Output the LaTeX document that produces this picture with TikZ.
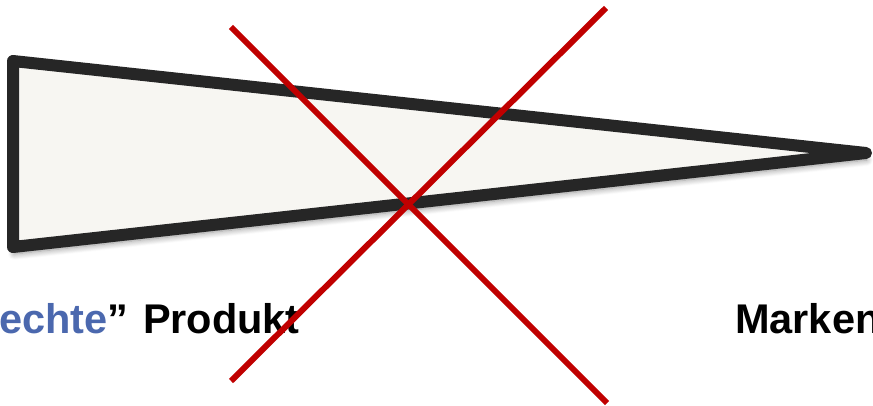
\documentclass[tikz,border=0pt]{standalone}
\usepackage{fontspec}
\setmainfont{Liberation Sans}
\usetikzlibrary{shadows.blur}
\definecolor{wedgefill}{HTML}{F7F6F2}
\definecolor{wedgeline}{HTML}{262626}
\definecolor{crossred}{HTML}{C00000}
\definecolor{textblue}{HTML}{4B68AE}
\begin{document}
\begin{tikzpicture}[x=1pt,y=-1pt,
  wedge/.style={draw=wedgeline,fill=wedgefill,line width=12pt,line join=round,
    blur shadow={shadow xshift=1pt,shadow yshift=-7pt,shadow blur radius=6pt,shadow blur steps=8,shadow opacity=45}},
  crossline/.style={draw=crossred,line width=6pt},
  label/.style={font=\fontsize{41.5}{41.5}\selectfont\bfseries,inner sep=0pt}]
\useasboundingbox (0,0) rectangle (873,406);
\clip (0,0) rectangle (873,406);
\coordinate (tl) at (13,61);
\coordinate (bl) at (13,247);
\coordinate (tip) at (866,153);
\path[wedge] (tl) -- (tip) -- (bl) -- cycle;
\coordinate (a1) at (231,27);
\coordinate (a2) at (607,403);
\coordinate (b1) at (606,8);
\coordinate (b2) at (231,381);
\node[label,anchor=base east] (prod) at (300,333) {\textcolor{textblue}{echte}”\hspace{3pt} Produkt};
\node[label,anchor=base west] (mark) at (735,333) {Marken};
\draw[crossline] (a1) -- (a2);
\draw[crossline] (b1) -- (b2);
\end{tikzpicture}
\end{document}
